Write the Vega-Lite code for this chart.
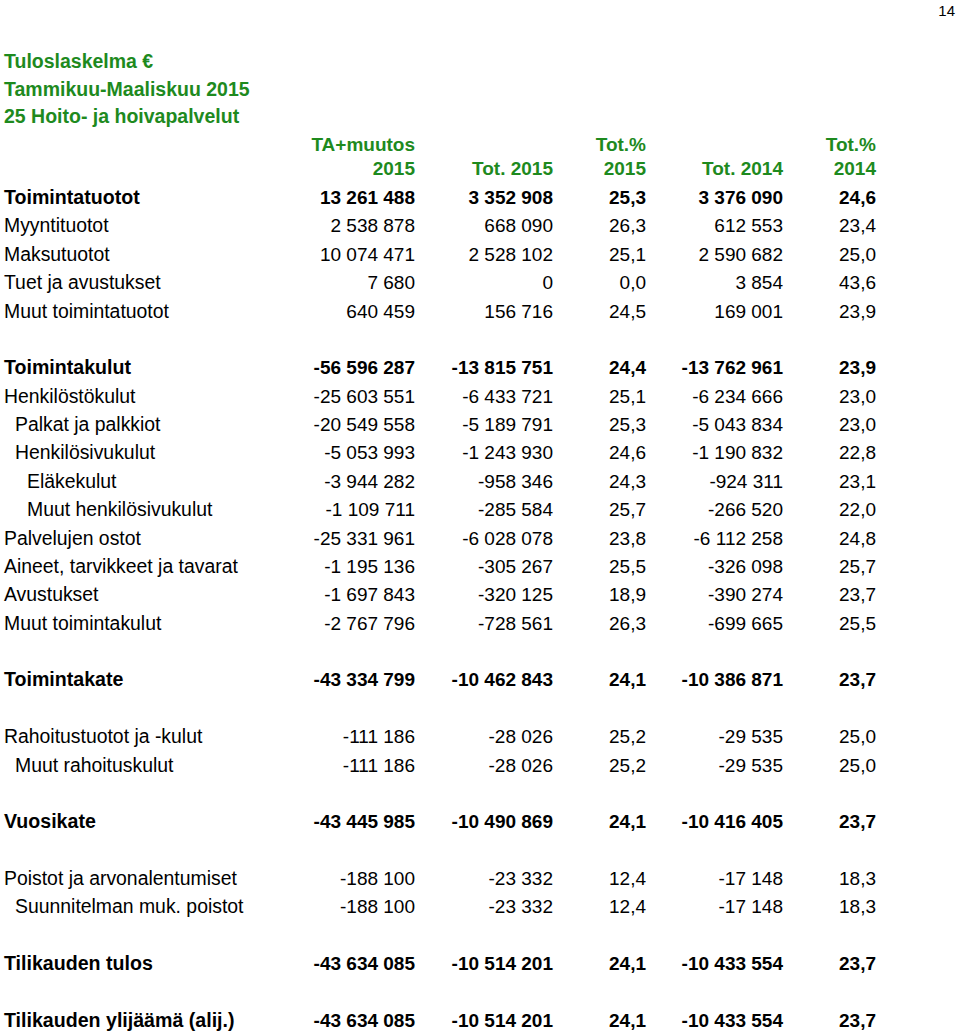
{
  "$schema": "https://vega.github.io/schema/vega-lite/v6.json",
  "width": 960,
  "height": 1032,
  "autosize": {"type": "none"},
  "padding": 0,
  "background": "white",
  "config": {"view": {"stroke": null}},
  "datasets": {
    "page": [{"row": -7, "col": 6, "t": "14"}],
    "titles": [
      {"row": -5, "level": 0, "t": "Tuloslaskelma €"},
      {"row": -4, "level": 0, "t": "Tammikuu-Maaliskuu 2015"},
      {"row": -3, "level": 0, "t": "25 Hoito- ja hoivapalvelut"}
    ],
    "headers": [
      {"row": -2, "col": 1, "t": "TA+muutos"},
      {"row": -1, "col": 1, "t": "2015"},
      {"row": -1, "col": 2, "t": "Tot. 2015"},
      {"row": -2, "col": 3, "t": "Tot.%"},
      {"row": -1, "col": 3, "t": "2015"},
      {"row": -1, "col": 4, "t": "Tot. 2014"},
      {"row": -2, "col": 5, "t": "Tot.%"},
      {"row": -1, "col": 5, "t": "2014"}
    ],
    "rows": [
      {"row": 0, "label": "Toimintatuotot", "level": 0, "kind": "total"},
      {"row": 1, "label": "Myyntituotot", "level": 0, "kind": "item"},
      {"row": 2, "label": "Maksutuotot", "level": 0, "kind": "item"},
      {"row": 3, "label": "Tuet ja avustukset", "level": 0, "kind": "item"},
      {"row": 4, "label": "Muut toimintatuotot", "level": 0, "kind": "item"},
      {"row": 6, "label": "Toimintakulut", "level": 0, "kind": "total"},
      {"row": 7, "label": "Henkilöstökulut", "level": 0, "kind": "item"},
      {"row": 8, "label": "Palkat ja palkkiot", "level": 1, "kind": "item"},
      {"row": 9, "label": "Henkilösivukulut", "level": 1, "kind": "item"},
      {"row": 10, "label": "Eläkekulut", "level": 2, "kind": "item"},
      {"row": 11, "label": "Muut henkilösivukulut", "level": 2, "kind": "item"},
      {"row": 12, "label": "Palvelujen ostot", "level": 0, "kind": "item"},
      {"row": 13, "label": "Aineet, tarvikkeet ja tavarat", "level": 0, "kind": "item"},
      {"row": 14, "label": "Avustukset", "level": 0, "kind": "item"},
      {"row": 15, "label": "Muut toimintakulut", "level": 0, "kind": "item"},
      {"row": 17, "label": "Toimintakate", "level": 0, "kind": "total"},
      {"row": 19, "label": "Rahoitustuotot ja -kulut", "level": 0, "kind": "item"},
      {"row": 20, "label": "Muut rahoituskulut", "level": 1, "kind": "item"},
      {"row": 22, "label": "Vuosikate", "level": 0, "kind": "total"},
      {"row": 24, "label": "Poistot ja arvonalentumiset", "level": 0, "kind": "item"},
      {"row": 25, "label": "Suunnitelman muk. poistot", "level": 1, "kind": "item"},
      {"row": 27, "label": "Tilikauden tulos", "level": 0, "kind": "total"},
      {"row": 29, "label": "Tilikauden ylijäämä (alij.)", "level": 0, "kind": "total"}
    ],
    "cells": [
      {"row": 0, "col": 1, "v": "13 261 488"}, {"row": 0, "col": 2, "v": "3 352 908"}, {"row": 0, "col": 3, "v": "25,3"}, {"row": 0, "col": 4, "v": "3 376 090"}, {"row": 0, "col": 5, "v": "24,6"},
      {"row": 1, "col": 1, "v": "2 538 878"}, {"row": 1, "col": 2, "v": "668 090"}, {"row": 1, "col": 3, "v": "26,3"}, {"row": 1, "col": 4, "v": "612 553"}, {"row": 1, "col": 5, "v": "23,4"},
      {"row": 2, "col": 1, "v": "10 074 471"}, {"row": 2, "col": 2, "v": "2 528 102"}, {"row": 2, "col": 3, "v": "25,1"}, {"row": 2, "col": 4, "v": "2 590 682"}, {"row": 2, "col": 5, "v": "25,0"},
      {"row": 3, "col": 1, "v": "7 680"}, {"row": 3, "col": 2, "v": "0"}, {"row": 3, "col": 3, "v": "0,0"}, {"row": 3, "col": 4, "v": "3 854"}, {"row": 3, "col": 5, "v": "43,6"},
      {"row": 4, "col": 1, "v": "640 459"}, {"row": 4, "col": 2, "v": "156 716"}, {"row": 4, "col": 3, "v": "24,5"}, {"row": 4, "col": 4, "v": "169 001"}, {"row": 4, "col": 5, "v": "23,9"},
      {"row": 6, "col": 1, "v": "-56 596 287"}, {"row": 6, "col": 2, "v": "-13 815 751"}, {"row": 6, "col": 3, "v": "24,4"}, {"row": 6, "col": 4, "v": "-13 762 961"}, {"row": 6, "col": 5, "v": "23,9"},
      {"row": 7, "col": 1, "v": "-25 603 551"}, {"row": 7, "col": 2, "v": "-6 433 721"}, {"row": 7, "col": 3, "v": "25,1"}, {"row": 7, "col": 4, "v": "-6 234 666"}, {"row": 7, "col": 5, "v": "23,0"},
      {"row": 8, "col": 1, "v": "-20 549 558"}, {"row": 8, "col": 2, "v": "-5 189 791"}, {"row": 8, "col": 3, "v": "25,3"}, {"row": 8, "col": 4, "v": "-5 043 834"}, {"row": 8, "col": 5, "v": "23,0"},
      {"row": 9, "col": 1, "v": "-5 053 993"}, {"row": 9, "col": 2, "v": "-1 243 930"}, {"row": 9, "col": 3, "v": "24,6"}, {"row": 9, "col": 4, "v": "-1 190 832"}, {"row": 9, "col": 5, "v": "22,8"},
      {"row": 10, "col": 1, "v": "-3 944 282"}, {"row": 10, "col": 2, "v": "-958 346"}, {"row": 10, "col": 3, "v": "24,3"}, {"row": 10, "col": 4, "v": "-924 311"}, {"row": 10, "col": 5, "v": "23,1"},
      {"row": 11, "col": 1, "v": "-1 109 711"}, {"row": 11, "col": 2, "v": "-285 584"}, {"row": 11, "col": 3, "v": "25,7"}, {"row": 11, "col": 4, "v": "-266 520"}, {"row": 11, "col": 5, "v": "22,0"},
      {"row": 12, "col": 1, "v": "-25 331 961"}, {"row": 12, "col": 2, "v": "-6 028 078"}, {"row": 12, "col": 3, "v": "23,8"}, {"row": 12, "col": 4, "v": "-6 112 258"}, {"row": 12, "col": 5, "v": "24,8"},
      {"row": 13, "col": 1, "v": "-1 195 136"}, {"row": 13, "col": 2, "v": "-305 267"}, {"row": 13, "col": 3, "v": "25,5"}, {"row": 13, "col": 4, "v": "-326 098"}, {"row": 13, "col": 5, "v": "25,7"},
      {"row": 14, "col": 1, "v": "-1 697 843"}, {"row": 14, "col": 2, "v": "-320 125"}, {"row": 14, "col": 3, "v": "18,9"}, {"row": 14, "col": 4, "v": "-390 274"}, {"row": 14, "col": 5, "v": "23,7"},
      {"row": 15, "col": 1, "v": "-2 767 796"}, {"row": 15, "col": 2, "v": "-728 561"}, {"row": 15, "col": 3, "v": "26,3"}, {"row": 15, "col": 4, "v": "-699 665"}, {"row": 15, "col": 5, "v": "25,5"},
      {"row": 17, "col": 1, "v": "-43 334 799"}, {"row": 17, "col": 2, "v": "-10 462 843"}, {"row": 17, "col": 3, "v": "24,1"}, {"row": 17, "col": 4, "v": "-10 386 871"}, {"row": 17, "col": 5, "v": "23,7"},
      {"row": 19, "col": 1, "v": "-111 186"}, {"row": 19, "col": 2, "v": "-28 026"}, {"row": 19, "col": 3, "v": "25,2"}, {"row": 19, "col": 4, "v": "-29 535"}, {"row": 19, "col": 5, "v": "25,0"},
      {"row": 20, "col": 1, "v": "-111 186"}, {"row": 20, "col": 2, "v": "-28 026"}, {"row": 20, "col": 3, "v": "25,2"}, {"row": 20, "col": 4, "v": "-29 535"}, {"row": 20, "col": 5, "v": "25,0"},
      {"row": 22, "col": 1, "v": "-43 445 985"}, {"row": 22, "col": 2, "v": "-10 490 869"}, {"row": 22, "col": 3, "v": "24,1"}, {"row": 22, "col": 4, "v": "-10 416 405"}, {"row": 22, "col": 5, "v": "23,7"},
      {"row": 24, "col": 1, "v": "-188 100"}, {"row": 24, "col": 2, "v": "-23 332"}, {"row": 24, "col": 3, "v": "12,4"}, {"row": 24, "col": 4, "v": "-17 148"}, {"row": 24, "col": 5, "v": "18,3"},
      {"row": 25, "col": 1, "v": "-188 100"}, {"row": 25, "col": 2, "v": "-23 332"}, {"row": 25, "col": 3, "v": "12,4"}, {"row": 25, "col": 4, "v": "-17 148"}, {"row": 25, "col": 5, "v": "18,3"},
      {"row": 27, "col": 1, "v": "-43 634 085"}, {"row": 27, "col": 2, "v": "-10 514 201"}, {"row": 27, "col": 3, "v": "24,1"}, {"row": 27, "col": 4, "v": "-10 433 554"}, {"row": 27, "col": 5, "v": "23,7"},
      {"row": 29, "col": 1, "v": "-43 634 085"}, {"row": 29, "col": 2, "v": "-10 514 201"}, {"row": 29, "col": 3, "v": "24,1"}, {"row": 29, "col": 4, "v": "-10 433 554"}, {"row": 29, "col": 5, "v": "23,7"}
    ]
  },
  "encoding": {
    "y": {
      "field": "row",
      "type": "quantitative",
      "axis": null,
      "scale": {"domain": [-7, -5, -2, -1, 0, 29], "range": [11, 62, 145, 169, 198, 1021], "nice": false, "zero": false}
    }
  },
  "layer": [
    {
      "data": {"name": "page"},
      "mark": {"type": "text", "align": "right", "baseline": "middle", "font": "Liberation Sans", "fontSize": 15, "color": "#000000"},
      "encoding": {
        "x": {"field": "col", "type": "quantitative", "axis": null, "scale": {"domain": [1, 2, 3, 4, 5, 6], "range": [415, 553, 646, 783, 876, 955], "nice": false, "zero": false}},
        "text": {"field": "t"}
      }
    },
    {
      "data": {"name": "titles"},
      "mark": {"type": "text", "align": "left", "baseline": "middle", "font": "Liberation Sans", "fontSize": 19.5, "fontWeight": "bold", "color": "#1e8a1e"},
      "encoding": {
        "x": {"field": "level", "type": "quantitative", "axis": null, "scale": {"domain": [0, 1, 2], "range": [4, 15, 27], "nice": false, "zero": false}},
        "text": {"field": "t"}
      }
    },
    {
      "data": {"name": "headers"},
      "mark": {"type": "text", "align": "right", "baseline": "middle", "font": "Liberation Sans", "fontSize": 19, "fontWeight": "bold", "color": "#1e8a1e"},
      "encoding": {
        "x": {"field": "col", "type": "quantitative", "axis": null, "scale": {"domain": [1, 2, 3, 4, 5, 6], "range": [415, 553, 646, 783, 876, 955], "nice": false, "zero": false}},
        "text": {"field": "t"}
      }
    },
    {
      "data": {"name": "rows"},
      "transform": [{"filter": "datum.kind === 'item'"}],
      "mark": {"type": "text", "align": "left", "baseline": "middle", "font": "Liberation Sans", "fontSize": 19.4, "color": "#000000"},
      "encoding": {
        "x": {"field": "level", "type": "quantitative", "axis": null, "scale": {"domain": [0, 1, 2], "range": [4, 15, 27], "nice": false, "zero": false}},
        "text": {"field": "label"}
      }
    },
    {
      "data": {"name": "rows"},
      "transform": [{"filter": "datum.kind === 'total'"}],
      "mark": {"type": "text", "align": "left", "baseline": "middle", "font": "Liberation Sans", "fontSize": 19.6, "fontWeight": "bold", "color": "#000000"},
      "encoding": {
        "x": {"field": "level", "type": "quantitative", "axis": null, "scale": {"domain": [0, 1, 2], "range": [4, 15, 27], "nice": false, "zero": false}},
        "text": {"field": "label"}
      }
    },
    {
      "data": {"name": "cells"},
      "transform": [
        {"lookup": "row", "from": {"data": {"name": "rows"}, "key": "row", "fields": ["kind"]}},
        {"filter": "datum.kind === 'item'"}
      ],
      "mark": {"type": "text", "align": "right", "baseline": "middle", "font": "Liberation Sans", "fontSize": 19, "color": "#000000"},
      "encoding": {
        "x": {"field": "col", "type": "quantitative", "axis": null, "scale": {"domain": [1, 2, 3, 4, 5, 6], "range": [415, 553, 646, 783, 876, 955], "nice": false, "zero": false}},
        "text": {"field": "v"}
      }
    },
    {
      "data": {"name": "cells"},
      "transform": [
        {"lookup": "row", "from": {"data": {"name": "rows"}, "key": "row", "fields": ["kind"]}},
        {"filter": "datum.kind === 'total'"}
      ],
      "mark": {"type": "text", "align": "right", "baseline": "middle", "font": "Liberation Sans", "fontSize": 19, "fontWeight": "bold", "color": "#000000"},
      "encoding": {
        "x": {"field": "col", "type": "quantitative", "axis": null, "scale": {"domain": [1, 2, 3, 4, 5, 6], "range": [415, 553, 646, 783, 876, 955], "nice": false, "zero": false}},
        "text": {"field": "v"}
      }
    }
  ],
  "resolve": {"scale": {"x": "independent"}}
}
